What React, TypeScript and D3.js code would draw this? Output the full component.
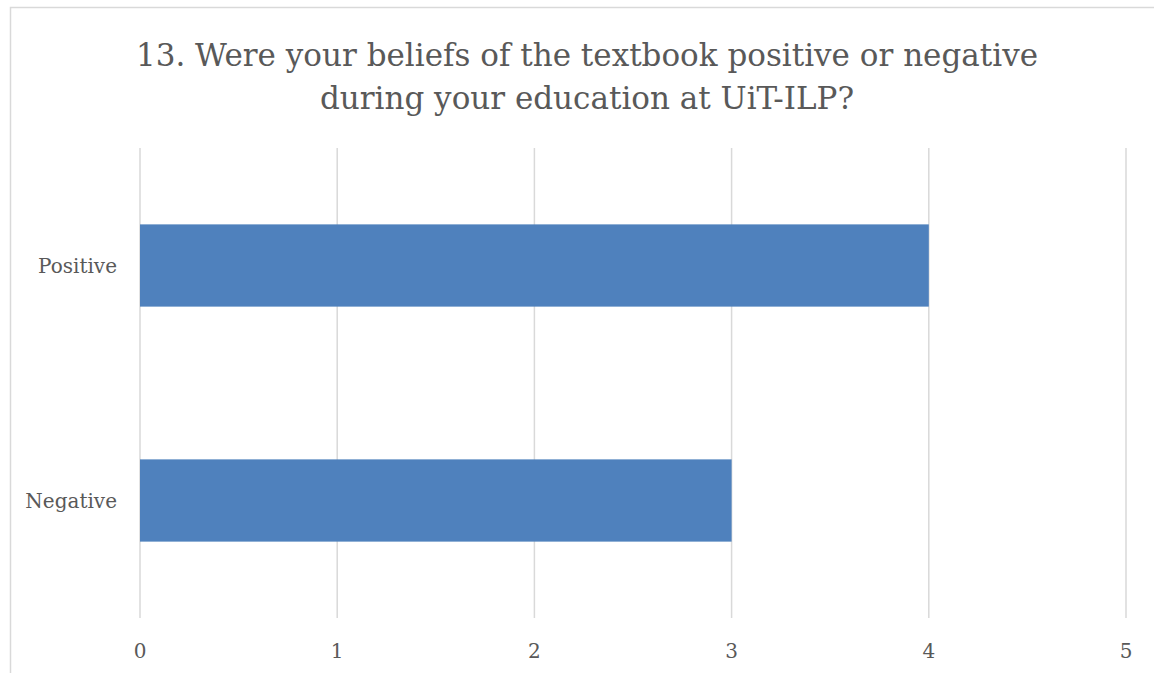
import React from "react";
import * as d3 from "d3";

const categories = ["Positive", "Negative"];
const values = [4, 3];
const xTicks = [0, 1, 2, 3, 4, 5];
const titleLines = [
  "13. Were your beliefs of the textbook positive or negative",
  "during your education at UiT-ILP?",
];

const W = 1154;
const H = 673;

export default function App() {
  const x = d3.scaleLinear().domain([0, 5]).range([140, 1126]);
  const y = d3.scaleBand().domain(categories).range([148, 618]).paddingInner(0.65).paddingOuter(0.325);
  const font = "'DejaVu Serif', serif";
  const textColor = "#595959";
  return (
    <svg width={W} height={H} style={{ position: "absolute", left: 0, top: 0, background: "#fff" }}>
      <rect x={10.5} y={7.5} width={W} height={H} fill="#fff" stroke="#d9d9d9" strokeWidth={1.5} />
      {titleLines.map((t, i) => (
        <text key={i} x={587} y={66 + i * 43} textAnchor="middle" fontFamily={font} fontSize={31} fill={textColor}>
          {t}
        </text>
      ))}
      {xTicks.map((t) => (
        <line key={t} x1={x(t)} x2={x(t)} y1={148} y2={618} stroke="#d9d9d9" strokeWidth={1.5} />
      ))}
      {categories.map((c, i) => (
        <rect key={c} x={x(0)} y={y(c)!} width={x(values[i]) - x(0)} height={y.bandwidth()} fill="#4f81bd" />
      ))}
      {categories.map((c) => (
        <text key={c} x={117} y={y(c)! + y.bandwidth() / 2} dy="0.35em" textAnchor="end" fontFamily={font} fontSize={20} fill={textColor}>
          {c}
        </text>
      ))}
      {xTicks.map((t) => (
        <text key={t} x={x(t)} y={658} textAnchor="middle" fontFamily={font} fontSize={20} fill={textColor}>
          {t}
        </text>
      ))}
    </svg>
  );
}
